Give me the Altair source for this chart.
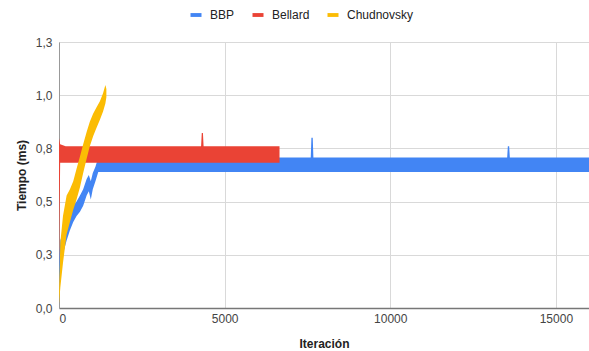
import altair as alt
import pandas as pd

# Per-series timing bands (ms): iteration, lower edge, upper edge
bbp_iter = [0, 40, 130, 230, 330, 430, 530, 633, 730, 834, 900, 960, 1020, 1100, 1185,
            7600, 7620, 7660, 7680, 13530, 13550, 13590, 13610, 16000]
bbp_low = [0.12, 0.20, 0.27, 0.33, 0.38, 0.42, 0.45, 0.47, 0.50, 0.55, 0.57, 0.53, 0.58, 0.62, 0.665,
           0.665, 0.665, 0.665, 0.665, 0.665, 0.665, 0.665, 0.665, 0.665]
bbp_high = [0.22, 0.33, 0.38, 0.43, 0.47, 0.50, 0.52, 0.55, 0.58, 0.63, 0.65, 0.62, 0.66, 0.69, 0.735,
            0.735, 0.832, 0.832, 0.735, 0.735, 0.79, 0.79, 0.735, 0.735]

bellard_iter = [0, 35, 200, 4290, 4310, 4345, 4365, 6657]
bellard_low = [0.20, 0.71, 0.71, 0.71, 0.71, 0.71, 0.71, 0.71]
bellard_high = [0.83, 0.80, 0.79, 0.79, 0.855, 0.855, 0.79, 0.79]

chud_iter = [0, 40, 120, 230, 330, 430, 530, 633, 730, 834, 930, 1033, 1130, 1235, 1330, 1400, 1430]
chud_low = [0.02, 0.10, 0.22, 0.36, 0.42, 0.48, 0.53, 0.59, 0.66, 0.73, 0.79, 0.84, 0.88, 0.92, 0.96, 1.00, 1.03]
chud_high = [0.06, 0.32, 0.45, 0.55, 0.58, 0.62, 0.68, 0.74, 0.80, 0.86, 0.91, 0.95, 0.98, 1.01, 1.05, 1.09, 1.07]

series_names = ["BBP", "Bellard", "Chudnovsky"]
series_colors = ["#4285F4", "#EA4335", "#FBBC04"]

x_ticks = [0, 5000, 10000, 15000]
y_ticks = [0, 0.26, 0.52, 0.78, 1.04, 1.3]

FONT = "Liberation Sans, Arial, sans-serif"


def band(name, it, lo, hi):
    return pd.DataFrame({"serie": name, "iter": it, "lo": lo, "hi": hi})


df = pd.concat([
    band("BBP", bbp_iter, bbp_low, bbp_high),
    band("Bellard", bellard_iter, bellard_low, bellard_high),
    band("Chudnovsky", chud_iter, chud_low, chud_high),
], ignore_index=True)

color = alt.Color(
    "serie:N",
    scale=alt.Scale(domain=series_names, range=series_colors),
    legend=alt.Legend(
        title=None,
        orient="none",
        direction="horizontal",
        legendX=131,
        legendY=-33,
        symbolType="M-1,-0.35H1V0.35H-1Z",
        symbolSize=121,
        symbolStrokeWidth=0,
        symbolOpacity=1,
        labelFont=FONT,
        labelFontSize=12,
        labelColor="#222222",
        labelOffset=8,
        columnPadding=17,
    ),
)

base = alt.Chart(df).mark_area(opacity=1, interpolate="linear").encode(
    x=alt.X(
        "iter:Q",
        scale=alt.Scale(domain=[0, 16000], nice=False, zero=True),
        axis=alt.Axis(
            values=x_ticks, format="d", title="Iteración",
            titleFont=FONT, titleFontSize=12, titleFontWeight="bold", titleColor="#222222",
            titlePadding=14,
            labelFont=FONT, labelFontSize=12, labelColor="#444444", labelPadding=5,
            ticks=False, domainColor="#777777", domainWidth=1.5,
            gridColor="#d9d9d9", gridWidth=1,
        ),
    ),
    y=alt.Y(
        "lo:Q",
        stack=None,
        scale=alt.Scale(domain=[0, 1.3], nice=False, zero=True),
        axis=alt.Axis(
            values=y_ticks,
            labelExpr="replace(format(datum.value, '.1f'), '.', ',')",
            title="Tiempo (ms)",
            titleFont=FONT, titleFontSize=12, titleFontWeight="bold", titleColor="#222222",
            titlePadding=7,
            labelFont=FONT, labelFontSize=12, labelColor="#444444", labelPadding=7,
            ticks=False, domainColor="#999999", domainWidth=1,
            gridColor="#d9d9d9", gridWidth=1,
        ),
    ),
    y2="hi:Q",
    color=color,
)

layers = [base.transform_filter(alt.datum.serie == n) for n in series_names]

chart = alt.layer(*layers).properties(
    width=530,
    height=266,
    autosize=alt.AutoSizeParams(type="none"),
    padding={"left": 59, "top": 42, "right": 0, "bottom": 43},
).configure_view(stroke=None).configure(background="white")

chart.save("out.html", embed_options={"renderer": "svg", "actions": False})
